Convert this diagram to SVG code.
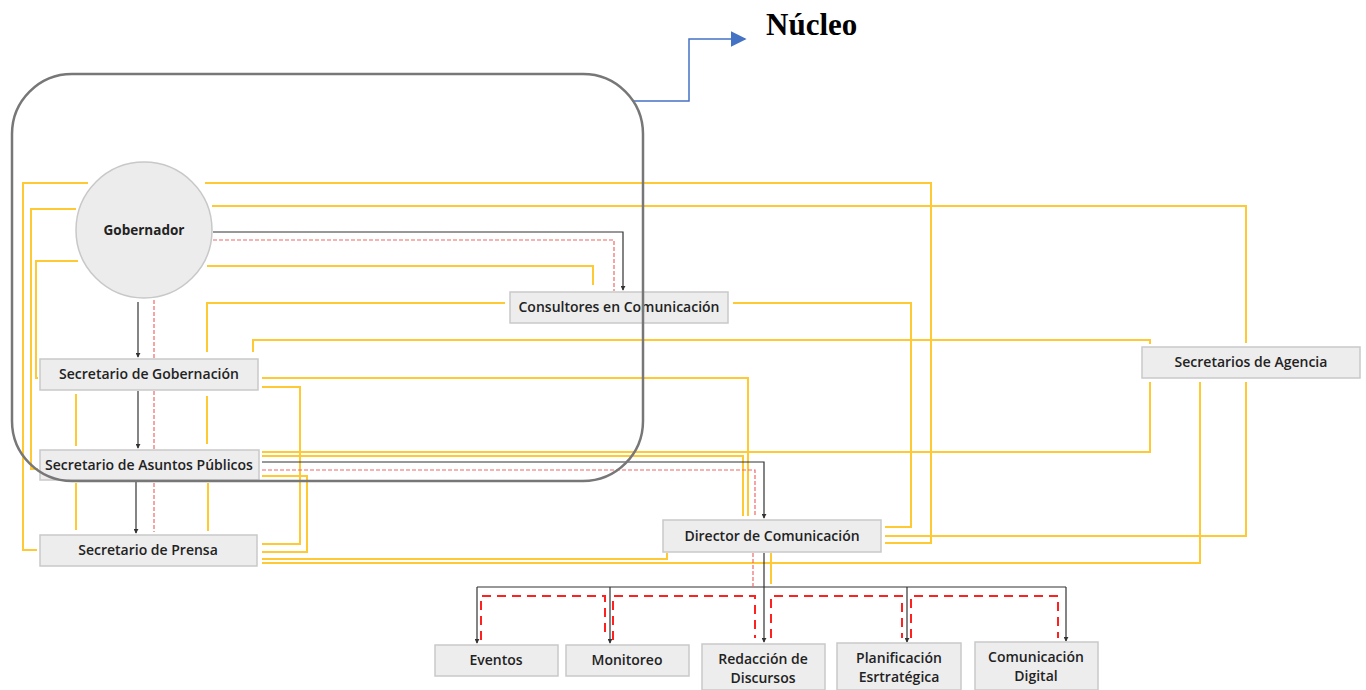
<svg xmlns="http://www.w3.org/2000/svg" width="1366" height="690" viewBox="0 0 1366 690">
<style>
.bg{fill:#ffffff}
.box{fill:#ededed;stroke:#c9c9c9;stroke-width:1.5}
.t{font-family:"Open Sans",Lato,"Liberation Sans",sans-serif;font-size:14px;font-weight:600;fill:#222;text-anchor:middle}
.tb{font-family:"Open Sans",Lato,"Liberation Sans",sans-serif;font-size:13.5px;font-weight:bold;fill:#222;text-anchor:middle}
.y{fill:none;stroke:#ffc933;stroke-width:2}
.k{fill:none;stroke:#333;stroke-width:1.2}
.rd{fill:none;stroke:#f06868;stroke-width:1.2;stroke-dasharray:4 2}
.rD{fill:none;stroke:#ff2020;stroke-width:2;stroke-dasharray:9 6}
.core{fill:none;stroke:#777;stroke-width:2.5}
.blue{fill:none;stroke:#4472c4;stroke-width:1.5}
</style>
<defs>
<marker id="ka" viewBox="0 0 6 6" refX="5" refY="3" markerWidth="5" markerHeight="5" orient="auto" markerUnits="userSpaceOnUse"><path d="M0,0 L6,3 L0,6 z" fill="#333"/></marker>
<marker id="ba" viewBox="0 0 10 10" refX="9" refY="5" markerWidth="16" markerHeight="16" orient="auto" markerUnits="userSpaceOnUse"><path d="M0,0 L10,5 L0,10 z" fill="#4472c4"/></marker>
</defs>
<rect class="bg" x="0" y="0" width="1366" height="690"/>
<g id="connectors">
<path class="y" d="M205,183 H931 V543 H885"/>
<path class="y" d="M212,206 H1246 V343"/>
<path class="y" d="M207,266 H593 V285"/>
<path class="y" d="M88,183 H23 V550 H37"/>
<path class="y" d="M76,209 H31 V469 H38"/>
<path class="y" d="M78,261 H36 V378 H38"/>
<path class="y" d="M207,352 V303 H505"/>
<path class="y" d="M733,303 H911 V527 H885"/>
<path class="y" d="M253,352 V340 H1150 V344"/>
<path class="y" d="M262,378 H748 V516"/>
<path class="y" d="M262,387 H300 V544 H262"/>
<path class="y" d="M262,452 H1150 V382"/>
<path class="y" d="M262,456 H743 V516"/>
<path class="y" d="M262,476 H307 V552 H262"/>
<path class="y" d="M262,559 H667 V553"/>
<path class="y" d="M262,563 H1200 V382"/>
<path class="y" d="M885,536 H1246 V382"/>
<path class="y" d="M76,394 V446 M207,396 V444 M76,483 V530 M208,483 V531 M771,553 V584"/>
<path class="k" d="M138,302 V357" marker-end="url(#ka)"/>
<path class="k" d="M138,391 V448" marker-end="url(#ka)"/>
<path class="k" d="M136,481 V533" marker-end="url(#ka)"/>
<path class="k" d="M213,232 H623 V290" marker-end="url(#ka)"/>
<path class="k" d="M262,462 H764 V518" marker-end="url(#ka)"/>
<path class="k" d="M764,553 V642" marker-end="url(#ka)"/>
<path class="k" d="M477,587 H1066"/>
<path class="k" d="M477,587 V643" marker-end="url(#ka)"/>
<path class="k" d="M610,587 V643" marker-end="url(#ka)"/>
<path class="k" d="M907,587 V642" marker-end="url(#ka)"/>
<path class="k" d="M1066,587 V641" marker-end="url(#ka)"/>
<path class="rd" d="M154,300 V358 M154,391 V449 M154,483 V532 M753,553 V587"/>
<path class="rd" d="M213,240 H614 V291"/>
<path class="rd" d="M262,470 H755 V517"/>
<path class="rD" d="M481,640 V596 H605 V638"/>
<path class="rD" d="M613,640 V596 H755 V638"/>
<path class="rD" d="M771,638 V596 H902 V638"/>
<path class="rD" d="M911,638 V596 H1058 V638"/>
<path class="blue" d="M632,101 H689 V39 H745" marker-end="url(#ba)"/>
</g>
<g id="gobernador"><circle cx="144" cy="230" r="68" fill="#ececec" stroke="#c8c8c8" stroke-width="1.5"/><text class="tb" x="144" y="235">Gobernador</text></g>
<g id="sec-gobernacion"><rect class="box" x="40" y="359" width="218" height="31"/><text class="t" x="149" y="379">Secretario de Gobernación</text></g>
<g id="sec-asuntos"><rect class="box" x="40" y="450" width="219" height="30"/><text class="t" x="149" y="470">Secretario de Asuntos Públicos</text></g>
<g id="sec-prensa"><rect class="box" x="40" y="535" width="217" height="31"/><text class="t" x="148" y="555">Secretario de Prensa</text></g>
<g id="consultores"><rect class="box" x="510" y="292" width="218" height="31"/><text class="t" x="619" y="312">Consultores en Comunicación</text></g>
<g id="director"><rect class="box" x="663" y="520" width="218" height="32"/><text class="t" x="772" y="541">Director de Comunicación</text></g>
<g id="sec-agencia"><rect class="box" x="1142" y="347" width="218" height="31"/><text class="t" x="1251" y="367">Secretarios de Agencia</text></g>
<g id="eventos"><rect class="box" x="435" y="645" width="123" height="31"/><text class="t" x="496" y="665">Eventos</text></g>
<g id="monitoreo"><rect class="box" x="566" y="645" width="123" height="31"/><text class="t" x="627" y="665">Monitoreo</text></g>
<g id="redaccion"><rect class="box" x="702" y="644" width="123" height="46"/><text class="t" x="763" y="664">Redacción de</text><text class="t" x="763" y="683">Discursos</text></g>
<g id="planificacion"><rect class="box" x="837" y="643" width="124" height="47"/><text class="t" x="899" y="663">Planificación</text><text class="t" x="899" y="682">Esrtratégica</text></g>
<g id="com-digital"><rect class="box" x="975" y="642" width="123" height="48"/><text class="t" x="1036" y="662">Comunicación</text><text class="t" x="1036" y="681">Digital</text></g>
<g id="nucleo"><rect class="core" x="12" y="74" width="631" height="407" rx="60" ry="60"/><text x="766" y="35" font-family="'Liberation Serif','Times New Roman',serif" font-size="31" font-weight="bold" fill="#000">Núcleo</text></g>
</svg>
